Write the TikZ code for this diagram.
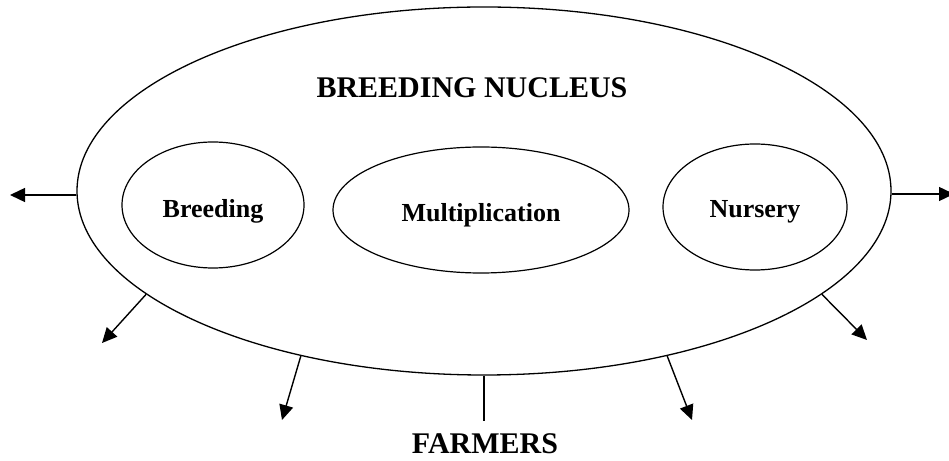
\documentclass[tikz,border=0pt]{standalone}
\usepackage{fontspec}
\setmainfont{Liberation Serif}
\usetikzlibrary{shapes.geometric,arrows.meta}
\begin{document}
\begin{tikzpicture}[x=1pt,y=1pt,
  bigell/.style={draw=black,ellipse,line width=1.3pt,inner sep=0pt},
  smallell/.style={draw=black,ellipse,line width=1.2pt,inner sep=0pt,minimum height=126pt},
  inlabel/.style={font=\fontsize{26}{30}\selectfont\bfseries},
  title/.style={font=\fontsize{30}{34}\selectfont\bfseries,anchor=base,inner sep=0pt},
  arr/.style={line width=1.4pt,-{Triangle[length=15pt,width=14pt]}},
  plain/.style={line width=1.4pt}]
\useasboundingbox (0,0) rectangle (949,460);
% outer ellipse
\node[bigell,minimum width=814pt,minimum height=368pt] (outer) at (484,269) {};
\node[title] (bn) at (472,362) {BREEDING NUCLEUS};
\node[title] (farmers) at (485,7) {FARMERS};
% inner ellipses
\node[smallell,minimum width=182pt,label={[inlabel,yshift=-6pt]center:Breeding}] (breeding) at (213,255) {};
\node[smallell,minimum width=296pt,label={[inlabel,yshift=-5pt]center:Multiplication}] (mult) at (481,250) {};
\node[smallell,minimum width=184pt,label={[inlabel,yshift=-5pt]center:Nursery}] (nursery) at (755,253) {};
% free ends
\coordinate (eL) at (10,265);
\coordinate (eR) at (954,266);
\coordinate (eLL) at (102,117);
\coordinate (eBL) at (282,40);
\coordinate (eC) at (484,39);
\coordinate (eBR) at (692,40);
\coordinate (eRL) at (867,120);
% connectors
\draw[arr] ([yshift=-4pt]outer.west) -- (eL);
\draw[arr] ([yshift=-3pt]outer.east) -- (eR);
\draw[arr] (outer.197.5) -- (eLL);
\draw[arr] (outer.222.2) -- (eBL);
\draw[plain] (outer.south) -- (eC);
\draw[arr] (outer.318.6) -- (eBR);
\draw[arr] (outer.343) -- (eRL);
\end{tikzpicture}
\end{document}
